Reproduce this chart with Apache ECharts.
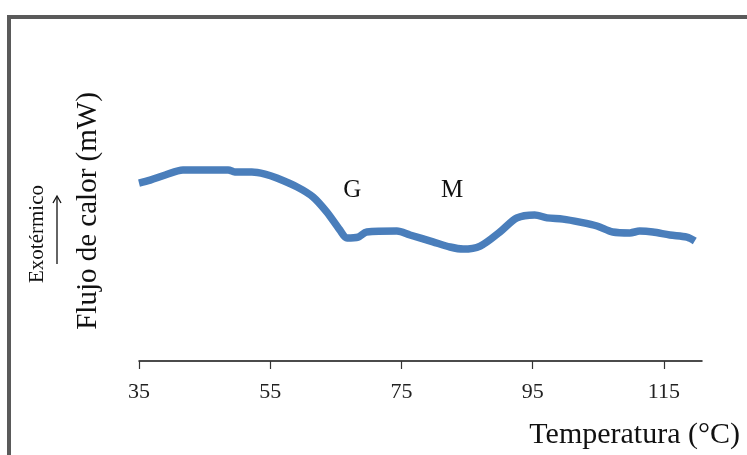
<!DOCTYPE html>
<html>
<head>
<meta charset="utf-8">
<script src="https://cdn.jsdelivr.net/npm/echarts@6/dist/echarts.min.js"></script>
<style>
  html, body { margin: 0; padding: 0; background: #fff; }
  #chart { width: 747px; height: 455px; }
</style>
</head>
<body>
<div id="chart"></div>
<script>
// temperatura (°C) y flujo de calor (unidades arbitrarias)
var temps = [35, 36.7, 39, 41.7, 48.6, 49.6, 52.2, 54.2, 56, 59.1, 61.5, 63.6, 65.6, 66.7, 68.4,
  69.7, 74.3, 76.3, 79.8, 82.4, 84.4, 87, 90, 92.6, 95.3, 97.2, 99.6, 102.2, 104.8, 107.2,
  109.8, 111.3, 113.3, 115.9, 118.5, 119.7]
var flujo = [59.3, 60.3, 62.0, 63.7, 63.7, 63.0, 63.0, 62.3, 61.0, 58.0, 54.7, 49.7, 43.7, 41.0, 41.3,
  43.0, 43.3, 42.0, 39.7, 38.0, 37.3, 38.3, 43.0, 47.7, 48.7, 47.7, 47.3, 46.3, 45.0, 43.0,
  42.7, 43.3, 43.0, 42.0, 41.3, 40.0]
var xTicks = [35, 55, 75, 95, 115]
var picos = [{ name: 'G', coord: [67.5, 57] }, { name: 'M', coord: [82.7, 57] }]

var serif = '"Liberation Serif", "DejaVu Serif", serif'
var chart = echarts.init(document.getElementById('chart'))
var option = {
  backgroundColor: '#fff',
  animation: false,
  grid: { left: 139, right: 45, top: 61, bottom: 94 },
  xAxis: {
    type: 'value',
    min: 35,
    max: 120.8,
    interval: 20,
    axisLine: { show: true, onZero: false, lineStyle: { color: '#111', width: 1.5 } },
    axisTick: { show: true, length: 8, customValues: xTicks, lineStyle: { color: '#333', width: 1.2 } },
    axisLabel: { customValues: xTicks, fontFamily: serif, fontSize: 22, color: '#222', margin: 20 },
    splitLine: { show: false }
  },
  yAxis: {
    type: 'value',
    min: 0,
    max: 100,
    name: 'Flujo de calor (mW)',
    nameLocation: 'middle',
    nameRotate: 90,
    nameGap: 36,
    nameTextStyle: { fontFamily: serif, fontSize: 29, color: '#111' },
    axisLine: { show: false },
    axisTick: { show: false },
    axisLabel: { show: false },
    splitLine: { show: false }
  },
  series: [{
    type: 'line',
    data: temps.map(function (t, i) { return [t, flujo[i]] }),
    smooth: 0.3,
    symbol: 'none',
    lineStyle: { color: '#4a7ebb', width: 7.5 },
    markPoint: {
      symbol: 'circle',
      symbolSize: 0,
      data: picos,
      label: { show: true, formatter: '{b}', position: 'inside', fontFamily: serif, fontSize: 25, color: '#111' }
    }
  }],
  graphic: [
    { type: 'rect', shape: { x: 9, y: 17, width: 800, height: 500 }, style: { fill: 'none', stroke: '#5a5a5a', lineWidth: 4 } },
    { type: 'text', x: 37, y: 234, rotation: Math.PI / 2, style: { text: 'Exotérmico', font: '21px ' + serif, fill: '#111', align: 'center', verticalAlign: 'middle' } },
    { type: 'line', shape: { x1: 57, y1: 264, x2: 57, y2: 197 }, style: { stroke: '#111', lineWidth: 1.3 } },
    { type: 'polyline', shape: { points: [[53, 203], [57, 196], [61, 203]] }, style: { stroke: '#111', lineWidth: 1.3, fill: 'none' } },
    { type: 'text', right: 7, top: 420, style: { text: 'Temperatura (°C)', font: '30px ' + serif, fill: '#111' } }
  ]
}
chart.setOption(option)
</script>
</body>
</html>
